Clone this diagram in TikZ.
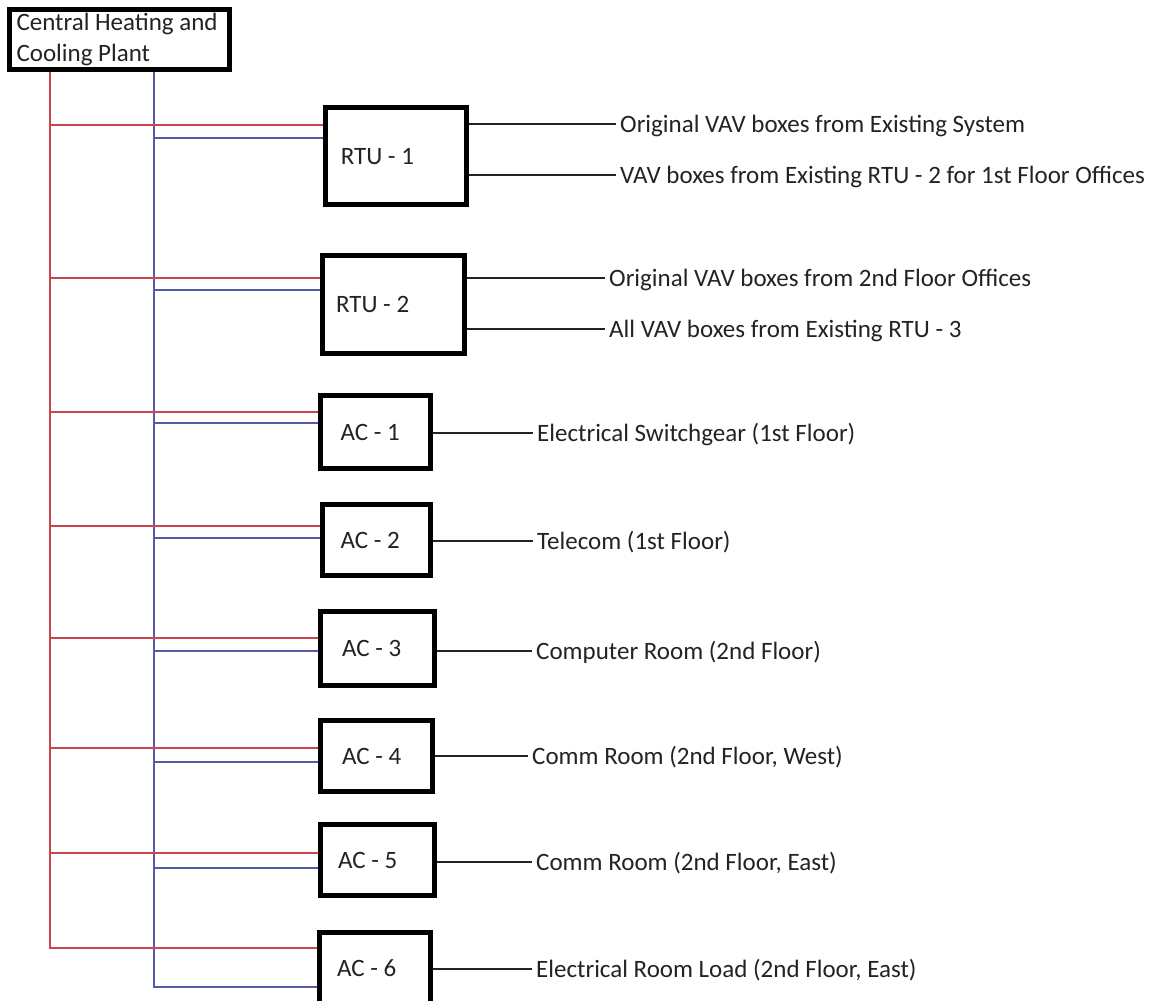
\documentclass[tikz,border=0pt]{standalone}
\usepackage{fontspec}
\setmainfont{Carlito}
\definecolor{pipered}{RGB}{200,70,80}
\definecolor{pipeblue}{RGB}{85,90,165}
\definecolor{ink}{RGB}{35,35,35}
\newcommand\unitlabel[2]{\makebox[#1][l]{#2}}
\begin{document}
\begin{tikzpicture}[x=1pt,y=-1pt, font=\fontsize{25}{31}\selectfont, text=ink,
  plantbox/.style={draw=black, line width=5pt, rectangle, align=left, inner xsep=0pt, inner ysep=0pt, minimum width=220pt, minimum height=60pt},
  unit/.style={draw=black, line width=5pt, rectangle, inner ysep=0pt, text height=16pt, text depth=0pt},
  lbl/.style={anchor=west, inner xsep=4pt, inner ysep=0pt, text height=16pt, text depth=0pt},
  redpipe/.style={draw=pipered, line width=1.5pt},
  bluepipe/.style={draw=pipeblue, line width=1.5pt},
  outline/.style={draw=ink, line width=1.5pt}]
\fill[white] (0,0) rectangle (1159,1001);
\useasboundingbox (0,0) rectangle (1159,1001);

% plant and units
\node[plantbox] (plant) at (119.5,39.5) {\unitlabel{206pt}{Central Heating and}\\\unitlabel{206pt}{Cooling Plant}};
\node[unit, minimum width=141pt, minimum height=97pt, inner xsep=15pt] (rtu1) at (396.25,156) {\unitlabel{111pt}{RTU - 1}};
\node[unit, minimum width=142pt, minimum height=98pt, inner xsep=13.5pt] (rtu2) at (393.5,304.5) {\unitlabel{115pt}{RTU - 2}};
\node[unit, minimum width=110pt, minimum height=73pt, inner xsep=20pt] (ac1) at (375.5,432) {\unitlabel{70pt}{AC - 1}};
\node[unit, minimum width=108pt, minimum height=71pt, inner xsep=18pt] (ac2) at (376.5,540) {\unitlabel{72pt}{AC - 2}};
\node[unit, minimum width=114pt, minimum height=74pt, inner xsep=21.5pt] (ac3) at (377.5,648.5) {\unitlabel{71pt}{AC - 3}};
\node[unit, minimum width=112pt, minimum height=71pt, inner xsep=21.5pt] (ac4) at (376.5,756) {\unitlabel{69pt}{AC - 4}};
\node[unit, minimum width=114pt, minimum height=71pt, inner xsep=17.5pt] (ac5) at (377.5,860) {\unitlabel{79pt}{AC - 5}};
\node[unit, minimum width=111pt, minimum height=72pt, inner xsep=17.5pt] (ac6) at (375,968.5) {\unitlabel{76pt}{AC - 6}};

\coordinate (R) at (50,0);
\coordinate (B) at (154,0);

% blue supply
\draw[bluepipe] (plant.south -| B) |- (ac6.west |- 0,987);
\foreach \n/\y in {rtu1/138, rtu2/290, ac1/423, ac2/538, ac3/651, ac4/762, ac5/868}
  \draw[bluepipe] (B |- 0,\y) -- (\n.west |- 0,\y);

% red supply
\draw[redpipe] (plant.south -| R) |- (ac6.west |- 0,948);
\foreach \n/\y in {rtu1/125, rtu2/278, ac1/412, ac2/526, ac3/638, ac4/748, ac5/853}
  \draw[redpipe] (R |- 0,\y) -- (\n.west |- 0,\y);

% served zones
\node[lbl] (z1) at (616,124) {Original VAV boxes from Existing System};
\node[lbl] (z2) at (616,175) {VAV boxes from Existing RTU - 2 for 1st Floor Offices};
\node[lbl] (z3) at (605,278) {Original VAV boxes from 2nd Floor Offices};
\node[lbl] (z4) at (605,329) {All VAV boxes from Existing RTU - 3};
\node[lbl] (z5) at (533,433) {Electrical Switchgear (1st Floor)};
\node[lbl] (z6) at (533,541) {Telecom (1st Floor)};
\node[lbl] (z7) at (532,651) {Computer Room (2nd Floor)};
\node[lbl] (z8) at (528,756) {Comm Room (2nd Floor, West)};
\node[lbl] (z9) at (532,862) {Comm Room (2nd Floor, East)};
\node[lbl] (z10) at (532,969) {Electrical Room Load (2nd Floor, East)};

\draw[outline] (rtu1.east |- z1.west) -- (z1.west);
\draw[outline] (rtu1.east |- z2.west) -- (z2.west);
\draw[outline] (rtu2.east |- z3.west) -- (z3.west);
\draw[outline] (rtu2.east |- z4.west) -- (z4.west);
\draw[outline] (ac1.east |- z5.west) -- (z5.west);
\draw[outline] (ac2.east |- z6.west) -- (z6.west);
\draw[outline] (ac3.east |- z7.west) -- (z7.west);
\draw[outline] (ac4.east |- z8.west) -- (z8.west);
\draw[outline] (ac5.east |- z9.west) -- (z9.west);
\draw[outline] (ac6.east |- z10.west) -- (z10.west);
\end{tikzpicture}
\end{document}
